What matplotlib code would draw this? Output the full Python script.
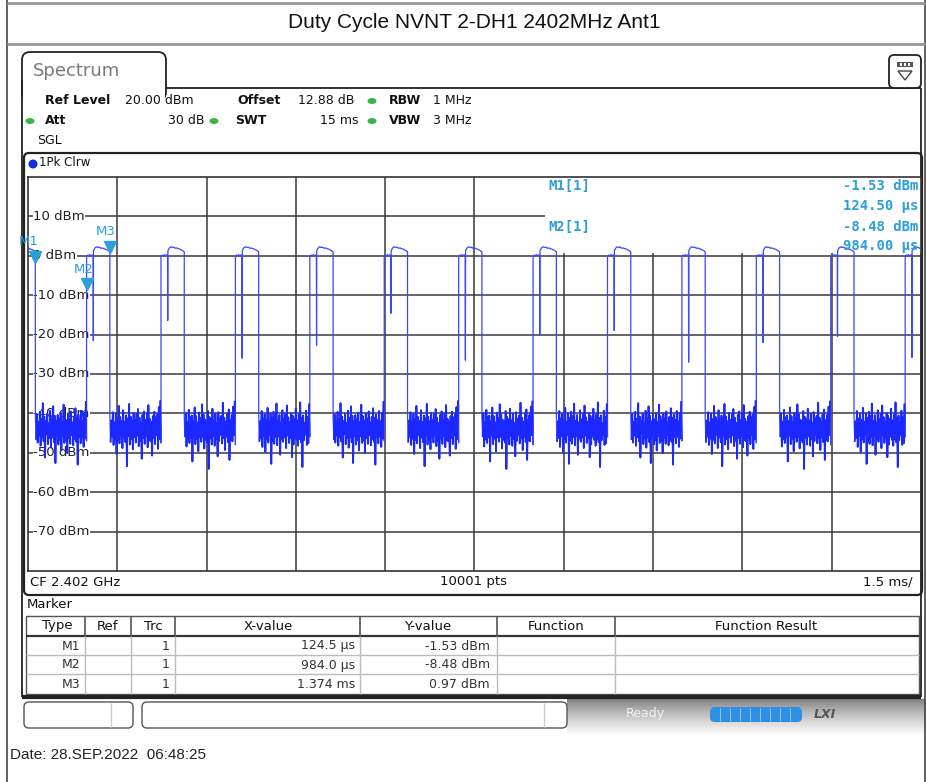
import numpy as np
import matplotlib
matplotlib.use("Agg")
import matplotlib.pyplot as plt
from matplotlib.transforms import Affine2D, offset_copy
from matplotlib.patches import FancyBboxPatch, Rectangle, Ellipse, Polygon
from matplotlib.lines import Line2D

# ---------------- data ----------------
title = "Duty Cycle NVNT 2-DH1 2402MHz Ant1"
y_levels_dbm = [10, 0, -10, -20, -30, -40, -50, -60, -70]
y_tick_labels = ["10 dBm", "0 dBm", "-10 dBm", "-20 dBm", "-30 dBm",
                 "-40 dBm", "-50 dBm", "-60 dBm", "-70 dBm"]
x_grid_ms = [1.5, 3.0, 4.5, 6.0, 7.5, 9.0, 10.5, 12.0, 13.5]
sweep_ms = 15.0
ref_level = 20.0
bottom_level = -80.0

# burst (pulse) data
first_fall_ms = 0.1245
pulse_starts_ms = [0.984, 2.234, 3.484, 4.734, 5.984, 7.234, 8.484, 9.734,
                   10.984, 12.234, 13.484, 14.734]
pulse_dips_dbm = [-21.5, -16.4, -26.0, -22.7, -14.6, -26.5, -20.2, -19.0,
                  -27.0, -22.0, -20.5, -25.8]
burst_len_ms = 0.391
lead_top_dbm = [1.5, 1.8, 1.6, 1.4, 1.2]
low_top_dbm = [-0.3, 0.2, -0.1, 0.3, 0.0, 0.2, 0.1]
up_top_dbm = [1.3, 2.0, 2.3, 2.1, 2.2, 1.9, 2.0, 1.8, 1.7, 1.5, 1.3, 1.0]

noise_a = [-41.0, -46.5, -40.2, -47.4, -42.1, -45.6, -39.6, -48.2, -41.4, -46.0,
           -37.4, -47.1, -40.8, -51.2, -41.9, -45.3, -40.1, -47.8, -42.4, -46.3,
           -39.3, -48.7, -41.2, -46.1, -38.2, -47.3, -40.6, -52.6, -42.0, -45.7,
           -40.4, -47.9, -41.5, -46.8, -39.8, -49.4, -42.2, -45.8, -37.8, -47.5,
           -40.7, -46.9, -41.8, -50.1, -40.0, -46.2, -41.3, -47.7, -39.5, -45.5,
           -42.3, -48.1, -40.9, -46.6, -38.7, -47.2, -41.1, -53.0, -40.3, -46.0,
           -41.7, -47.6, -39.4, -45.9, -42.0, -48.5, -39.9, -46.4, -37.1, -47.0]
noise_b = [-40.6, -47.2, -41.8, -45.9, -39.7, -48.0, -42.3, -46.4, -40.1, -50.3,
           -41.5, -46.7, -38.1, -47.6, -40.9, -45.4, -41.9, -48.8, -39.2, -46.1,
           -42.2, -47.3, -40.5, -53.4, -41.3, -45.8, -37.6, -47.9, -40.8, -46.5,
           -42.0, -49.1, -39.9, -46.0, -41.6, -47.4, -40.2, -45.6, -38.9, -48.3,
           -41.1, -46.9, -42.4, -51.5, -40.4, -46.3, -39.5, -47.7, -41.7, -45.7,
           -40.0, -48.6, -37.9, -46.8, -41.4, -47.1, -42.1, -50.7, -40.7, -46.2,
           -39.6, -47.8, -41.0, -45.5, -40.3, -49.0, -38.4, -46.6, -36.9, -47.5]
noise_c = [-41.4, -45.8, -40.0, -48.4, -42.2, -46.6, -39.1, -47.5, -41.0, -46.1,
           -40.5, -52.2, -41.9, -45.6, -38.5, -47.8, -40.7, -46.4, -42.3, -49.6,
           -39.8, -46.0, -41.2, -47.2, -37.7, -45.9, -40.3, -48.9, -41.6, -46.7,
           -42.0, -47.4, -39.4, -54.1, -40.9, -46.3, -41.5, -47.9, -38.8, -45.7,
           -41.8, -48.2, -40.1, -46.5, -42.4, -50.9, -39.7, -47.0, -41.3, -45.4,
           -40.6, -47.6, -37.3, -46.2, -41.1, -49.3, -42.1, -45.9, -40.2, -47.3,
           -39.0, -51.8, -41.7, -46.8, -40.4, -47.1, -38.3, -45.5, -37.0, -48.0]
noise_d = [-40.8, -47.0, -42.0, -46.2, -39.4, -48.5, -41.3, -45.7, -40.2, -49.8,
           -41.7, -46.6, -38.6, -47.4, -42.2, -45.5, -40.0, -52.8, -41.1, -46.9,
           -39.6, -47.7, -40.7, -46.0, -37.5, -48.1, -41.9, -45.8, -40.4, -50.5,
           -42.3, -46.4, -39.2, -47.2, -41.5, -46.1, -40.1, -48.8, -38.0, -45.6,
           -41.0, -47.5, -42.1, -46.3, -39.9, -51.1, -40.6, -47.9, -41.4, -45.9,
           -38.8, -46.7, -41.8, -48.2, -40.3, -46.5, -37.2, -47.3, -41.2, -53.6,
           -40.5, -46.8, -42.4, -45.4, -39.3, -48.0, -40.9, -47.6, -37.7, -46.0]
noise_sets = [noise_a, noise_b, noise_c, noise_d]

marker_names = ["M1", "M2", "M3"]
marker_x_ms = [0.1245, 0.984, 1.374]
marker_y_dbm = [-1.53, -8.48, 0.97]
marker_x_text = ["124.5 µs", "984.0 µs", "1.374 ms"]
marker_y_text = ["-1.53 dBm", "-8.48 dBm", "0.97 dBm"]

# ---------------- figure helpers ----------------
W, H = 926, 782
fig = plt.figure(figsize=(W / 100, H / 100), dpi=100)
fig.patch.set_facecolor("white")
T = Affine2D().scale(0.01, -0.01).translate(0, H / 100) + fig.dpi_scale_trans

UI = "DejaVu Sans"
CYAN = "#2a9fd8"
TRACE = "#1b28ff"


def line(xs, ys, color="#333333", lw=1.0, z=5):
    fig.add_artist(Line2D(xs, ys, transform=T, color=color, lw=lw, zorder=z,
                          solid_capstyle="butt"))


def txt(x, y, s, size=9, weight="normal", color="#111111", ha="left",
        va="center", family=UI, z=6, **kw):
    fig.text(x, y, s, transform=T, fontsize=size, fontweight=weight,
             color=color, ha=ha, va=va, family=family, zorder=z, **kw)


def rbox(x0, y0, x1, y1, r=6, fc="white", ec="#333333", lw=1.0, z=1):
    fig.add_artist(FancyBboxPatch((x0, y0), x1 - x0, y1 - y0,
                                  boxstyle=f"round,pad=0,rounding_size={r}",
                                  transform=T, fc=fc, ec=ec, lw=lw, zorder=z))


def dot(x, y, color="#3cb44b", w=9, h=6, z=6):
    fig.add_artist(Ellipse((x, y), w, h, transform=T, fc=color, ec="none", zorder=z))


# ---------------- page frame / title ----------------
line([7, 7], [0, 782], color="#444444", lw=1.2)
line([925, 925], [0, 782], color="#444444", lw=1.2)
line([7, 925], [3, 3], color="#999999", lw=2)
line([7, 925], [44, 44], color="#999999", lw=2)
txt(474, 23, title, size=15, family="Liberation Sans", ha="center")

# ---------------- instrument screen frame ----------------
rbox(22, 52, 166, 100, r=8, fc="white", ec="#222222", lw=1.3, z=1)
fig.add_artist(Rectangle((23, 88.5), 142, 14, transform=T, fc="white", ec="none", zorder=1.5))
line([165, 921], [88, 88], color="#222222", lw=1.3, z=2)
line([22, 22], [80, 697], color="#222222", lw=1.3, z=2)
line([921, 921], [88, 697], color="#222222", lw=1.3, z=2)
txt(33, 71, "Spectrum", size=13, color="#7a7a7a")

# right top icon
rbox(889, 55, 921, 88, r=5, fc="white", ec="#222222", lw=1.3, z=2)
fig.add_artist(Rectangle((897, 62), 16, 5, transform=T, fc="#555555", ec="none", zorder=3))
for xx in [901, 905, 909]:
    fig.add_artist(Rectangle((xx - 1, 63), 2, 3, transform=T, fc="white", ec="none", zorder=4))
fig.add_artist(Polygon([[898, 71], [912, 71], [905, 80]], closed=True, transform=T,
                       fc="white", ec="#444444", lw=1, zorder=3))

# header settings
txt(45, 100, "Ref Level", size=9, weight="bold")
txt(125, 100, "20.00 dBm", size=9)
txt(237, 100, "Offset", size=9, weight="bold")
txt(298, 100, "12.88 dB", size=9)
dot(372, 101)
txt(389, 100, "RBW", size=9, weight="bold")
txt(433, 100, "1 MHz", size=9)
dot(30, 121)
txt(45, 120, "Att", size=9, weight="bold")
txt(204, 120, "30 dB", size=9, ha="right")
dot(214, 121)
txt(235, 120, "SWT", size=9, weight="bold")
txt(358, 120, "15 ms", size=9, ha="right")
dot(372, 121)
txt(389, 120, "VBW", size=9, weight="bold")
txt(433, 120, "3 MHz", size=9)
txt(37, 141, "SGL", size=9)

# diagram frame
rbox(24, 153, 922, 595, r=5, fc="white", ec="#222222", lw=1.6, z=1)
dot(33, 164, color="#1030e0", w=9, h=9)
txt(39, 163, "1Pk Clrw", size=8.5)

# ---------------- trace axes ----------------
ax_left, ax_right, ax_top, ax_bot = 28, 921, 177, 571
ax = fig.add_axes([ax_left / W, 1 - ax_bot / H, (ax_right - ax_left) / W, (ax_bot - ax_top) / H])
ax.set_xlim(0, sweep_ms)
ax.set_ylim(bottom_level, ref_level)
ax.set_xticks([])
ax.set_yticks([])
for sp in ax.spines.values():
    sp.set_color("#333333")
    sp.set_linewidth(1.2)
ax.set_zorder(3)
ax.patch.set_alpha(0)

for lv in y_levels_dbm:
    ax.axhline(lv, color="#3a3a3a", lw=1.1, zorder=1)
for xg in x_grid_ms:
    ax.axvline(xg, color="#3a3a3a", lw=1.1, zorder=1)

# white box behind marker info (covers grid)
ax.add_patch(Rectangle((0.579, 0.806), 0.43, 0.2, transform=ax.transAxes,
                       fc="white", ec="none", zorder=1.5))

for lv, lab in zip(y_levels_dbm, y_tick_labels):
    ax.annotate(lab, xy=(0, lv), xycoords=("axes fraction", "data"),
                xytext=(5, 0), textcoords="offset pixels", ha="left", va="center",
                fontsize=9.5, family=UI, color="#222222", zorder=2,
                bbox=dict(fc="white", ec="none", pad=0.3))

# build trace
t_vals, d_vals = [], []
noise_segments = []


def add(tt, vv):
    t_vals.extend(list(tt))
    d_vals.extend(list(vv))


add(np.linspace(0, first_fall_ms - 0.002, len(lead_top_dbm)), lead_top_dbm)
gap_starts = [first_fall_ms] + [s + burst_len_ms for s in pulse_starts_ms[:-1]]
for i, s in enumerate(pulse_starts_ms):
    nz = noise_sets[i % len(noise_sets)]
    tt = np.linspace(gap_starts[i], s, len(nz))
    add(tt, nz)
    noise_segments.append((tt, nz))
    add(np.linspace(s, s + 0.110, len(low_top_dbm)), low_top_dbm)
    add([s + 0.113], [pulse_dips_dbm[i]])
    add(np.linspace(s + 0.116, s + burst_len_ms, len(up_top_dbm)), up_top_dbm)

ax.plot(t_vals, d_vals, color="#3a46ff", lw=0.9, zorder=3, clip_on=True)
for tt, nz in noise_segments:
    ax.plot(tt[1:-1], nz[1:-1], color=TRACE, lw=1.3, zorder=3.1)

# markers
for name, mx, my in zip(marker_names, marker_x_ms, marker_y_dbm):
    tr = offset_copy(ax.transData, fig=fig, x=0, y=5, units="dots")
    ax.plot([mx], [my], marker="v", ms=8, color=CYAN, transform=tr, zorder=4,
            clip_on=False)
label_offsets = {"M1": (-7, 20), "M2": (-3, 20), "M3": (-4, 20)}
for name, mx, my in zip(marker_names, marker_x_ms, marker_y_dbm):
    dx, dy = label_offsets[name]
    ax.annotate(name, xy=(mx, my), xytext=(dx, dy), textcoords="offset pixels",
                ha="center", va="center", fontsize=9.5, family=UI, color=CYAN,
                zorder=5, annotation_clip=False)

# marker info text
MONO = "DejaVu Sans Mono"
txt(548, 186, "M1[1]", size=10, weight="bold", color=CYAN, family=MONO)
txt(918, 186, "-1.53 dBm", size=10, weight="bold", color=CYAN, family=MONO, ha="right")
txt(918, 206, "124.50 µs", size=10, weight="bold", color=CYAN, family=MONO, ha="right")
txt(548, 227, "M2[1]", size=10, weight="bold", color=CYAN, family=MONO)
txt(918, 227, "-8.48 dBm", size=10, weight="bold", color=CYAN, family=MONO, ha="right")
txt(918, 246, "984.00 µs", size=10, weight="bold", color=CYAN, family=MONO, ha="right")

# diagram footer
txt(30, 582, "CF 2.402 GHz", size=9.5)
txt(474, 582, "10001 pts", size=9.5, ha="center")
txt(913, 582, "1.5 ms/", size=9.5, ha="right")

# ---------------- marker table ----------------
txt(27, 604, "Marker", size=9.5)
fig.add_artist(Rectangle((26, 616), 893, 78, transform=T, fc="white", ec="#555555",
                         lw=1, zorder=2))
line([26, 919], [636, 636], color="#333333", lw=1.6, z=3)
for yy in [655, 674]:
    line([26, 919], [yy, yy], color="#bbbbbb", lw=1, z=3)
col_seps = [85, 131, 175, 360, 497, 615]
for xs in col_seps:
    line([xs, xs], [616, 636], color="#555555", lw=1.2, z=3)
    line([xs, xs], [636, 694], color="#bbbbbb", lw=1, z=3)
headers = [("Type", 57), ("Ref", 108), ("Trc", 153), ("X-value", 268),
           ("Y-value", 428), ("Function", 556), ("Function Result", 766)]
for h, xc in headers:
    txt(xc, 626, h, size=9.5, ha="center")
row_y = [646, 665, 684]
for name, xs_, ys_, yy in zip(marker_names, marker_x_text, marker_y_text, row_y):
    txt(80, yy, name, size=9, ha="right", color="#333333")
    txt(170, yy, "1", size=9, ha="right", color="#333333")
    txt(355, yy, xs_, size=9, ha="right", color="#333333")
    txt(490, yy, ys_, size=9, ha="right", color="#333333")

line([22, 921], [697, 697], color="#222222", lw=3, z=4)

# ---------------- status bar ----------------
gax = fig.add_axes([567 / W, 1 - 736 / H, (926 - 567) / W, 37 / H])
grad = np.linspace(0.25, 1.0, 50) ** 0.5
gax.imshow(grad[:, None], cmap="gray", vmin=0, vmax=1, aspect="auto")
gax.axis("off")
gax.set_zorder(0)
rbox(24, 702, 133, 728, r=5, fc="white", ec="#555555", lw=1, z=3)
line([111, 111], [703, 727], color="#cccccc", lw=1, z=4)
rbox(142, 702, 567, 728, r=5, fc="white", ec="#555555", lw=1, z=3)
line([544, 544], [703, 727], color="#cccccc", lw=1, z=4)
txt(645, 714, "Ready", size=9, color="#f2f2f2", ha="center")
rbox(710, 707, 802, 722, r=5, fc="#2d8fe6", ec="none", z=3)
for xx in range(720, 800, 10):
    line([xx, xx], [708, 721], color="#a9d0f5", lw=0.6, z=4)
txt(825, 714, "LXI", size=9, weight="bold", color="#555555", ha="center", style="italic")

# ---------------- date ----------------
txt(10, 755, "Date: 28.SEP.2022  06:48:25", size=11, family="Liberation Sans",
    color="#222222")

fig.savefig("out.png", dpi=100, facecolor="white")
